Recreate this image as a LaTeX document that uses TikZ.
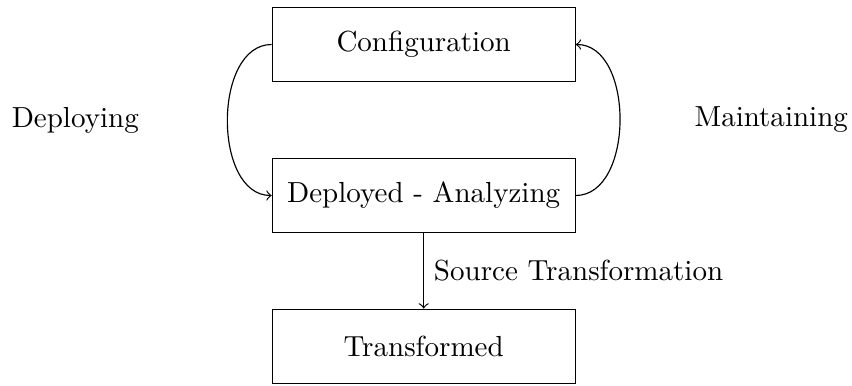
\documentclass[tikz,border=0pt]{standalone}
\begin{document}
\begin{tikzpicture}[
  x=0.34435pt, y=-0.34435pt,
  state/.style={draw, rectangle, minimum width=104.3pt, minimum height=25.7pt, inner sep=0pt},
  flow/.style={->}
]
\useasboundingbox (0,0) rectangle (852,386);
\node[state] (conf) at (423.7,44.5) {Configuration};
\node[state] (dep) at (423.7,195.5) {Deployed - Analyzing};
\node[state] (trans) at (423.7,346.5) {Transformed};
\node (deploying) at (75.3,120) {Deploying};
\node (maintaining) at (771.3,120) {Maintaining};
\draw[flow] (conf.west) to[out=180,in=180] (dep.west);
\draw[flow] (dep.east) to[out=0,in=0] (conf.east);
\draw[flow] (dep.south) -- node[right] {Source Transformation} (trans.north);
\end{tikzpicture}
\end{document}
